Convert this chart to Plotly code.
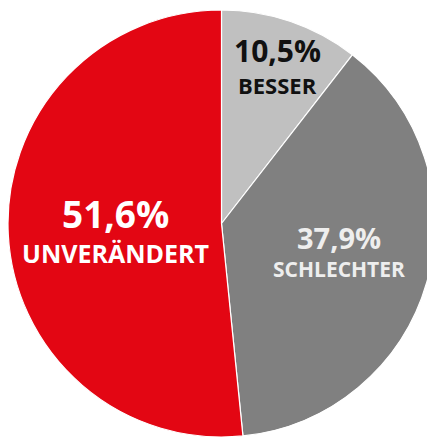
import plotly.graph_objects as go

categories = ["BESSER", "SCHLECHTER", "UNVERÄNDERT"]
values = [10.5, 37.9, 51.6]
colors = ["#c0c0c0", "#808080", "#e30613"]
text_colors = ["#111111", "#eeeeee", "#ffffff"]
pct_sizes = [30, 29, 37]
label_sizes = [22, 21, 25]
# label centre positions in page pixels (x, y_pct, y_label)
label_pos = [(277, 50, 85), (339, 237, 269), (115, 213, 253)]

W, H = 427, 431   # figure fits inside the 435x439 window (8px body margin)
OFF = 8           # default body margin of the page

fig = go.Figure(go.Pie(
    labels=categories,
    values=values,
    sort=False,
    direction="clockwise",
    rotation=0,
    marker=dict(colors=colors, line=dict(color="#ffffff", width=1.2)),
    textinfo="none",
    hoverinfo="label+percent",
    showlegend=False,
    domain=dict(x=[0, 1], y=[0, 1]),
))

annotations = []
for cat, v, tc, ps, ls, (px, py1, py2) in zip(categories, values, text_colors,
                                              pct_sizes, label_sizes, label_pos):
    pct = f"{v:.1f}".replace(".", ",") + "%"
    annotations.append(dict(
        x=(px - OFF) / W, y=1 - (py1 - OFF) / H, xref="paper", yref="paper",
        text=pct, showarrow=False, xanchor="center", yanchor="middle",
        font=dict(family="Open Sans", size=ps, color=tc, weight=700),
    ))
    annotations.append(dict(
        x=(px - OFF) / W, y=1 - (py2 - OFF) / H, xref="paper", yref="paper",
        text=cat, showarrow=False, xanchor="center", yanchor="middle",
        font=dict(family="Open Sans", size=ls, color=tc, weight=700),
    ))

fig.update_layout(
    width=W, height=H,
    margin=dict(l=0, r=0, t=0, b=0),
    paper_bgcolor="#ffffff",
    plot_bgcolor="#ffffff",
    annotations=annotations,
)

fig.write_html("out.html")
